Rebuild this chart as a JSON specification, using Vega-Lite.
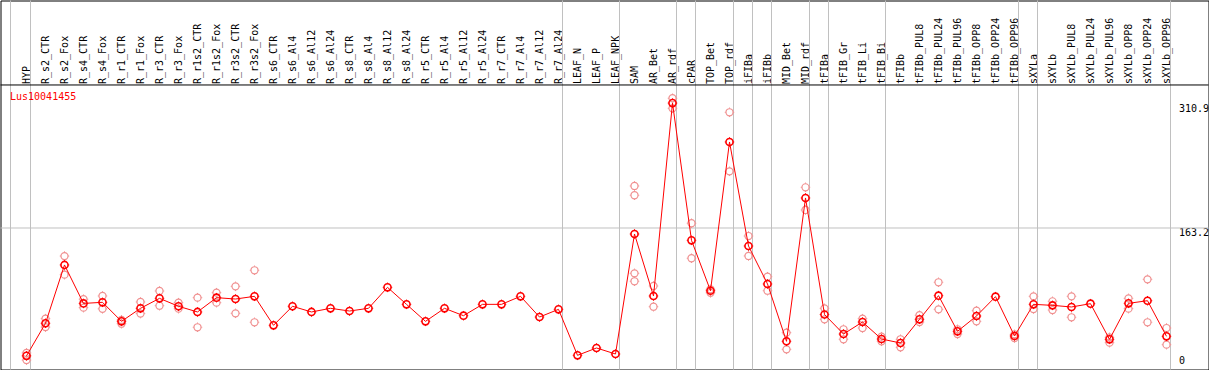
{
  "$schema": "https://vega.github.io/schema/vega-lite/v6.json",
  "width": 1208,
  "height": 369,
  "autosize": {"type": "none"},
  "padding": {"left": 0.5, "top": 0.5, "right": 0.5, "bottom": 0.5},
  "background": "#ffffff",
  "config": {
    "view": {"stroke": "#000000", "strokeWidth": 1},
    "axis": {"labelFont": "DejaVu Sans Mono", "labelFontSize": 10, "labelColor": "#000000"}
  },
  "datasets": {
    "means": [
      {"sample": "HYP", "value": 12},
      {"sample": "R_s2_CTR", "value": 50.5},
      {"sample": "R_s2_Fox", "value": 119.5},
      {"sample": "R_s4_CTR", "value": 74},
      {"sample": "R_s4_Fox", "value": 75.3},
      {"sample": "R_r1_CTR", "value": 52.8},
      {"sample": "R_r1_Fox", "value": 68.2},
      {"sample": "R_r3_CTR", "value": 80},
      {"sample": "R_r3_Fox", "value": 70.6},
      {"sample": "R_r1s2_CTR", "value": 63.9},
      {"sample": "R_r1s2_Fox", "value": 80.8},
      {"sample": "R_r3s2_CTR", "value": 79.2},
      {"sample": "R_r3s2_Fox", "value": 82.4},
      {"sample": "R_s6_CTR", "value": 48.1},
      {"sample": "R_s6_Al4", "value": 70.6},
      {"sample": "R_s6_Al12", "value": 63.9},
      {"sample": "R_s6_Al24", "value": 68.2},
      {"sample": "R_s8_CTR", "value": 65},
      {"sample": "R_s8_Al4", "value": 68.2},
      {"sample": "R_s8_Al12", "value": 93},
      {"sample": "R_s8_Al24", "value": 72.9},
      {"sample": "R_r5_CTR", "value": 52.8},
      {"sample": "R_r5_Al4", "value": 68.2},
      {"sample": "R_r5_Al12", "value": 59.5},
      {"sample": "R_r5_Al24", "value": 72.9},
      {"sample": "R_r7_CTR", "value": 72.9},
      {"sample": "R_r7_Al4", "value": 82.4},
      {"sample": "R_r7_Al12", "value": 57.9},
      {"sample": "R_r7_Al24", "value": 67},
      {"sample": "LEAF_N", "value": 12.6},
      {"sample": "LEAF_P", "value": 21.3},
      {"sample": "LEAF_NPK", "value": 14.2},
      {"sample": "SAM", "value": 156.1},
      {"sample": "AR_Bet", "value": 82.8},
      {"sample": "AR_rdf", "value": 310.9},
      {"sample": "cPAR", "value": 148.6},
      {"sample": "TOP_Bet", "value": 89},
      {"sample": "TOP_rdf", "value": 264.9},
      {"sample": "iFIBa", "value": 141.9},
      {"sample": "iFIBb", "value": 97},
      {"sample": "MID_Bet", "value": 29.2},
      {"sample": "MID_rdf", "value": 198.7},
      {"sample": "tFIBa", "value": 60.9},
      {"sample": "tFIB_Gr", "value": 37.8},
      {"sample": "tFIB_Li", "value": 52},
      {"sample": "tFIB_Bi", "value": 31.9},
      {"sample": "tFIBb", "value": 27.2},
      {"sample": "tFIBb_PUL8", "value": 55.2},
      {"sample": "tFIBb_PUL24", "value": 83.2},
      {"sample": "tFIBb_PUL96", "value": 41},
      {"sample": "tFIBb_OPP8", "value": 59.1},
      {"sample": "tFIBb_OPP24", "value": 82},
      {"sample": "tFIBb_OPP96", "value": 35.5},
      {"sample": "sXYLa", "value": 72.9},
      {"sample": "sXYLb", "value": 71.7},
      {"sample": "sXYLb_PUL8", "value": 69.8},
      {"sample": "sXYLb_PUL24", "value": 73.7},
      {"sample": "sXYLb_PUL96", "value": 31.5},
      {"sample": "sXYLb_OPP8", "value": 74.1},
      {"sample": "sXYLb_OPP24", "value": 77.2},
      {"sample": "sXYLb_OPP96", "value": 35.1}
    ],
    "reps": [
      {"sample": "HYP", "value": 15.5}, {"sample": "HYP", "value": 7},
      {"sample": "R_s2_CTR", "value": 56}, {"sample": "R_s2_CTR", "value": 46},
      {"sample": "R_s2_Fox", "value": 130}, {"sample": "R_s2_Fox", "value": 108},
      {"sample": "R_s4_CTR", "value": 79}, {"sample": "R_s4_CTR", "value": 69},
      {"sample": "R_s4_Fox", "value": 82.8}, {"sample": "R_s4_Fox", "value": 67.6},
      {"sample": "R_r1_CTR", "value": 54.5}, {"sample": "R_r1_CTR", "value": 50},
      {"sample": "R_r1_Fox", "value": 75.7}, {"sample": "R_r1_Fox", "value": 62},
      {"sample": "R_r3_CTR", "value": 88.7}, {"sample": "R_r3_CTR", "value": 71.3},
      {"sample": "R_r3_Fox", "value": 74.9}, {"sample": "R_r3_Fox", "value": 67.8},
      {"sample": "R_r1s2_CTR", "value": 80.8}, {"sample": "R_r1s2_CTR", "value": 45.8},
      {"sample": "R_r1s2_Fox", "value": 86.7}, {"sample": "R_r1s2_Fox", "value": 74.9},
      {"sample": "R_r3s2_CTR", "value": 94.2}, {"sample": "R_r3s2_CTR", "value": 62.3},
      {"sample": "R_r3s2_Fox", "value": 113.2}, {"sample": "R_r3s2_Fox", "value": 51.7},
      {"sample": "SAM", "value": 212.9}, {"sample": "SAM", "value": 201.9}, {"sample": "SAM", "value": 109.6}, {"sample": "SAM", "value": 100.2},
      {"sample": "AR_Bet", "value": 94.6}, {"sample": "AR_Bet", "value": 70.1},
      {"sample": "AR_rdf", "value": 316.6}, {"sample": "AR_rdf", "value": 304.7},
      {"sample": "cPAR", "value": 168.8}, {"sample": "cPAR", "value": 127.4},
      {"sample": "TOP_Bet", "value": 90.7}, {"sample": "TOP_Bet", "value": 86.5},
      {"sample": "TOP_rdf", "value": 300}, {"sample": "TOP_rdf", "value": 230.2},
      {"sample": "iFIBa", "value": 153.7}, {"sample": "iFIBa", "value": 130.1},
      {"sample": "iFIBb", "value": 105.6}, {"sample": "iFIBb", "value": 89},
      {"sample": "MID_Bet", "value": 39.4}, {"sample": "MID_Bet", "value": 19.7},
      {"sample": "MID_rdf", "value": 211.3}, {"sample": "MID_rdf", "value": 184.5},
      {"sample": "tFIBa", "value": 68.2}, {"sample": "tFIBa", "value": 55.2},
      {"sample": "tFIB_Gr", "value": 43.4}, {"sample": "tFIB_Gr", "value": 31.6},
      {"sample": "tFIB_Li", "value": 56}, {"sample": "tFIB_Li", "value": 44.9},
      {"sample": "tFIB_Bi", "value": 34.7}, {"sample": "tFIB_Bi", "value": 29.2},
      {"sample": "tFIBb", "value": 31.6}, {"sample": "tFIBb", "value": 22.1},
      {"sample": "tFIBb_PUL8", "value": 60}, {"sample": "tFIBb_PUL8", "value": 52},
      {"sample": "tFIBb_PUL24", "value": 99}, {"sample": "tFIBb_PUL24", "value": 67},
      {"sample": "tFIBb_PUL96", "value": 43.4}, {"sample": "tFIBb_PUL96", "value": 37.8},
      {"sample": "tFIBb_OPP8", "value": 65.4}, {"sample": "tFIBb_OPP8", "value": 52.8},
      {"sample": "tFIBb_OPP96", "value": 37.4}, {"sample": "tFIBb_OPP96", "value": 33.1},
      {"sample": "sXYLa", "value": 82.4}, {"sample": "sXYLa", "value": 67.4},
      {"sample": "sXYLb", "value": 76.5}, {"sample": "sXYLb", "value": 66.2},
      {"sample": "sXYLb_PUL8", "value": 82.4}, {"sample": "sXYLb_PUL8", "value": 57.6},
      {"sample": "sXYLb_PUL96", "value": 33.9}, {"sample": "sXYLb_PUL96", "value": 27.6},
      {"sample": "sXYLb_OPP8", "value": 80}, {"sample": "sXYLb_OPP8", "value": 67.8},
      {"sample": "sXYLb_OPP24", "value": 102.5}, {"sample": "sXYLb_OPP24", "value": 51.7},
      {"sample": "sXYLb_OPP96", "value": 44.9}, {"sample": "sXYLb_OPP96", "value": 25.2}
    ],
    "seps": [
      {"sample": "HYP", "side": "before"},
      {"sample": "HYP", "side": "after"},
      {"sample": "R_r7_Al24", "side": "after"},
      {"sample": "LEAF_NPK", "side": "after"},
      {"sample": "AR_rdf", "side": "after"},
      {"sample": "cPAR", "side": "after"},
      {"sample": "TOP_rdf", "side": "after"},
      {"sample": "iFIBa", "side": "after"},
      {"sample": "iFIBb", "side": "after"},
      {"sample": "MID_rdf", "side": "after"},
      {"sample": "tFIBa", "side": "after"},
      {"sample": "tFIB_Bi", "side": "after"},
      {"sample": "tFIBb_OPP96", "side": "after"},
      {"sample": "sXYLa", "side": "after"},
      {"sample": "sXYLb_OPP96", "side": "after"}
    ],
    "gene": [{"gene": "Lus10041455", "anchor": "HYP"}]
  },
  "layer": [
    {
      "data": {"name": "seps"},
      "transform": [{"filter": "datum.side == 'after'"}],
      "mark": {"type": "rule", "color": "#c0c0c0", "strokeWidth": 1, "xOffset": 4},
      "encoding": {
        "x": {"field": "sample", "type": "nominal"}
      }
    },
    {
      "data": {"name": "seps"},
      "transform": [{"filter": "datum.side == 'before'"}],
      "mark": {"type": "rule", "color": "#c0c0c0", "strokeWidth": 1, "xOffset": -16},
      "encoding": {
        "x": {"field": "sample", "type": "nominal"}
      }
    },
    {
      "data": {"values": [{"grid": 163.2}]},
      "mark": {"type": "rule", "color": "#c0c0c0", "strokeWidth": 1},
      "encoding": {"y": {"field": "grid", "type": "quantitative"}}
    },
    {
      "data": {"values": [{"divider": 332.3}]},
      "mark": {"type": "rule", "color": "#000000", "strokeWidth": 1},
      "encoding": {"y": {"field": "divider", "type": "quantitative"}}
    },
    {
      "data": {"name": "reps"},
      "mark": {"type": "point", "shape": "circle", "filled": false, "stroke": "#f09090", "strokeWidth": 1.2, "size": 50, "opacity": 1},
      "encoding": {
        "x": {"field": "sample", "type": "nominal"},
        "y": {"field": "value", "type": "quantitative"}
      }
    },
    {
      "data": {"name": "reps"},
      "mark": {"type": "point", "shape": "M-1,0H-0.78M0.78,0H1M0,-1V-0.78M0,0.78V1", "filled": false, "stroke": "#f09090", "strokeWidth": 1, "size": 90, "opacity": 1},
      "encoding": {
        "x": {"field": "sample", "type": "nominal"},
        "y": {"field": "value", "type": "quantitative"}
      }
    },
    {
      "data": {"name": "means"},
      "mark": {"type": "line", "color": "#ff0000", "strokeWidth": 1},
      "encoding": {
        "x": {
          "field": "sample", "type": "nominal", "sort": null,
          "scale": {
            "type": "point",
            "domain": ["HYP","R_s2_CTR","R_s2_Fox","R_s4_CTR","R_s4_Fox","R_r1_CTR","R_r1_Fox","R_r3_CTR","R_r3_Fox","R_r1s2_CTR","R_r1s2_Fox","R_r3s2_CTR","R_r3s2_Fox","R_s6_CTR","R_s6_Al4","R_s6_Al12","R_s6_Al24","R_s8_CTR","R_s8_Al4","R_s8_Al12","R_s8_Al24","R_r5_CTR","R_r5_Al4","R_r5_Al12","R_r5_Al24","R_r7_CTR","R_r7_Al4","R_r7_Al12","R_r7_Al24","LEAF_N","LEAF_P","LEAF_NPK","SAM","AR_Bet","AR_rdf","cPAR","TOP_Bet","TOP_rdf","iFIBa","iFIBb","MID_Bet","MID_rdf","tFIBa","tFIB_Gr","tFIB_Li","tFIB_Bi","tFIBb","tFIBb_PUL8","tFIBb_PUL24","tFIBb_PUL96","tFIBb_OPP8","tFIBb_OPP24","tFIBb_OPP96","sXYLa","sXYLb","sXYLb_PUL8","sXYLb_PUL24","sXYLb_PUL96","sXYLb_OPP8","sXYLb_OPP24","sXYLb_OPP96"],
            "range": [26, 1166],
            "padding": 0
          },
          "axis": {
            "orient": "top", "offset": -85, "title": null,
            "domain": false, "ticks": false, "grid": false,
            "labelAngle": 270, "labelAlign": "left", "labelBaseline": "middle",
            "labelPadding": 2, "labelOverlap": false, "labelLimit": 0
          }
        },
        "y": {
          "field": "value", "type": "quantitative",
          "scale": {"domain": [-4.14, 432.2], "nice": false, "zero": false},
          "axis": {
            "orient": "right", "offset": -30, "title": null,
            "values": [0, 163.2, 310.9], "format": ".1~f",
            "domain": false, "ticks": false, "grid": false,
            "labelPadding": 0, "labelAlign": "left",
            "labelBaseline": {"condition": {"test": "datum.value == 0", "value": "bottom"}, "value": "top"}
          }
        },
        "order": {"value": null}
      }
    },
    {
      "data": {"name": "means"},
      "mark": {"type": "point", "shape": "circle", "filled": false, "stroke": "#ff0000", "strokeWidth": 1.6, "size": 50, "opacity": 1},
      "encoding": {
        "x": {"field": "sample", "type": "nominal"},
        "y": {"field": "value", "type": "quantitative"}
      }
    },
    {
      "data": {"name": "means"},
      "mark": {"type": "point", "shape": "M-1,0H-0.78M0.78,0H1M0,-1V-0.78M0,0.78V1", "filled": false, "stroke": "#ff0000", "strokeWidth": 1, "size": 90, "opacity": 1},
      "encoding": {
        "x": {"field": "sample", "type": "nominal"},
        "y": {"field": "value", "type": "quantitative"}
      }
    },
    {
      "data": {"name": "gene"},
      "mark": {"type": "text", "align": "left", "baseline": "middle", "dx": -16.5, "font": "DejaVu Sans Mono", "fontSize": 10, "color": "#ff0000"},
      "encoding": {
        "x": {"field": "anchor", "type": "nominal"},
        "y": {"datum": 318.5, "type": "quantitative"},
        "text": {"field": "gene"}
      }
    }
  ]
}
